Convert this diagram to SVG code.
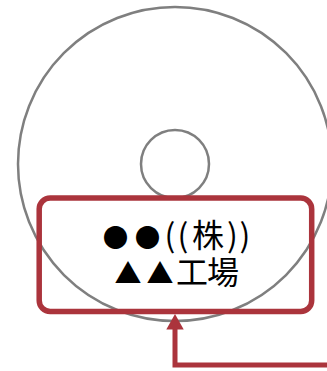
<svg xmlns="http://www.w3.org/2000/svg" width="327" height="371" viewBox="0 0 327 371">
<style>
.ring{fill:none;stroke:#7f7f7f;stroke-width:2.5}
.t{font-family:"Noto Sans CJK JP","Noto Sans",sans-serif;font-size:32px;fill:#000;text-anchor:middle}
.c{font-size:25.5px}
.a{font-size:27px}
</style>
<rect width="327" height="371" fill="#fff"/>
<g id="disc">
<circle class="ring" cx="175" cy="164" r="157"/>
<circle class="ring" cx="175" cy="164" r="34"/>
</g>
<g id="label">
<rect x="39.200" y="198" width="272.500" height="113.500" rx="11" fill="none" stroke="#ab343c" stroke-width="5.500"/>
<text class="t" y="246.500"><tspan class="c" x="115.500">●</tspan><tspan class="c" x="147.500">●</tspan><tspan x="170">(</tspan><tspan x="183">(</tspan><tspan x="208">株</tspan><tspan x="232.500">)</tspan><tspan x="245">)</tspan></text>
<text class="t" y="284"><tspan class="a" x="128">▲</tspan><tspan class="a" x="160">▲</tspan><tspan x="192">工</tspan><tspan x="223">場</tspan></text>
</g>
<g id="connectors">
<path d="M327 365H175V328" fill="none" stroke="#ab343c" stroke-width="5"/>
<path d="M175 314L183.700 329.500H166.300Z" fill="#ab343c"/>
</g>
</svg>
